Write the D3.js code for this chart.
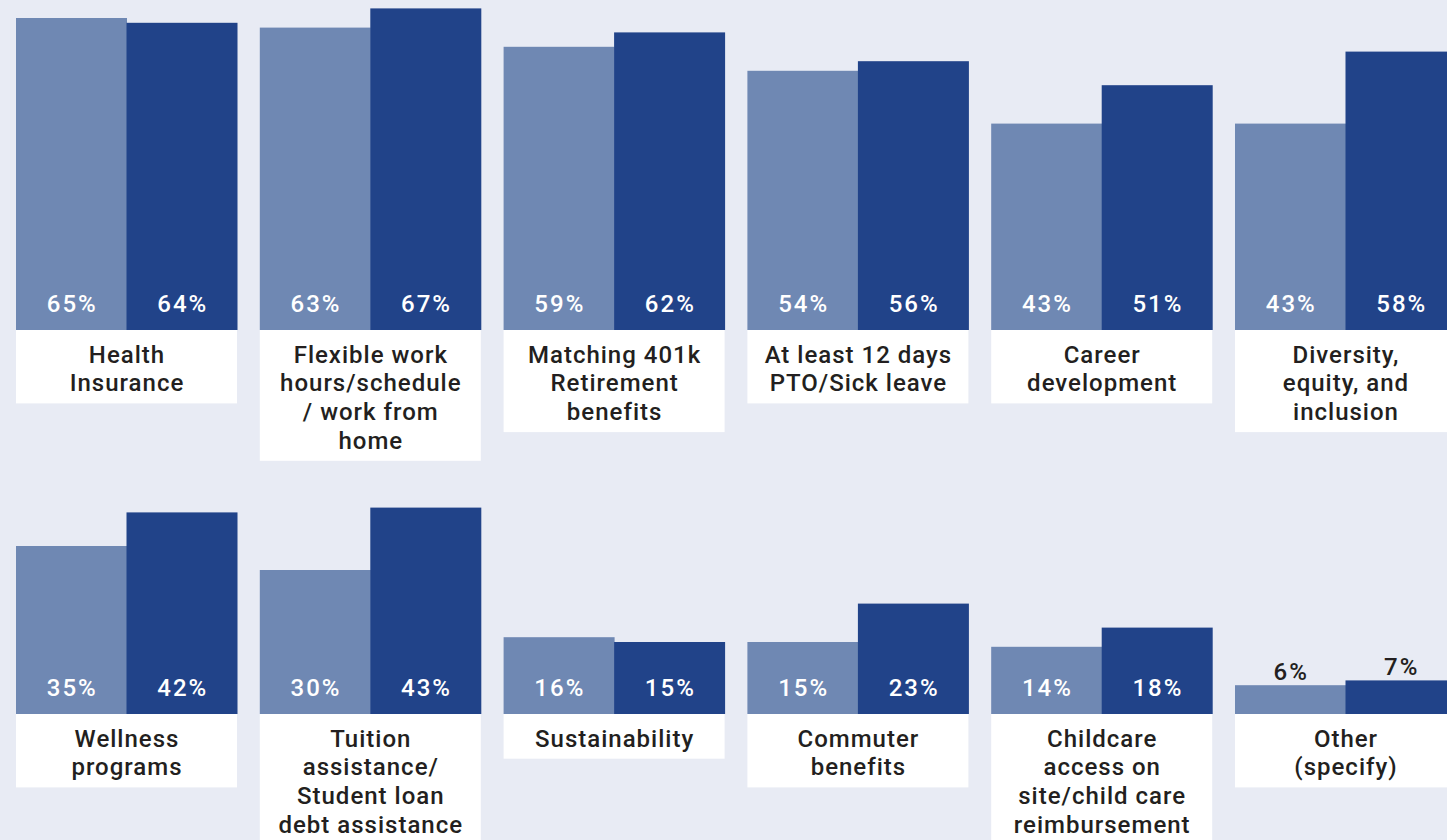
<!DOCTYPE html>
<html>
<head>
<meta charset="utf-8">
<script src="https://cdn.jsdelivr.net/npm/d3@7"></script>
<style>
  html, body { margin: 0; padding: 0; background: #e8ebf4; overflow: hidden; }
  svg { display: block; }
  text { font-family: Roboto, "Noto Sans", sans-serif; }
</style>
</head>
<body>
<svg id="chart" width="1447" height="840"></svg>
<script>
// ---- Data ----
const row1Categories = [
  ["Health", "Insurance"],
  ["Flexible work", "hours/schedule", "/ work from", "home"],
  ["Matching 401k", "Retirement", "benefits"],
  ["At least 12 days", "PTO/Sick leave"],
  ["Career", "development"],
  ["Diversity,", "equity, and", "inclusion"]
];
const row2Categories = [
  ["Wellness", "programs"],
  ["Tuition", "assistance/", "Student loan", "debt assistance"],
  ["Sustainability"],
  ["Commuter", "benefits"],
  ["Childcare", "access on", "site/child care", "reimbursement"],
  ["Other", "(specify)"]
];
const seriesKeys = ["light", "dark"];
const row1Light = [65, 63, 59, 54, 43, 43];
const row1Dark  = [64, 67, 62, 56, 51, 58];
const row2Light = [35, 30, 16, 15, 14, 6];
const row2Dark  = [42, 43, 15, 23, 18, 7];

// ---- Layout ----
const svg = d3.select("#chart");
const colors = { light: "#6f88b3", dark: "#214389" };
const textColor = "#231f20";

const x = d3.scaleBand().domain(d3.range(6)).range([16, 1456]).paddingInner(0.0935).paddingOuter(0);
const xInner = d3.scaleBand().domain(seriesKeys).range([0, x.bandwidth()]).padding(0);
const h = d3.scaleLinear().domain([0, 100]).range([0, 480]);

const lineH = 28.7;

function drawRow(baseline, cats, light, dark) {
  const data = cats.map((c, i) => ({ i, lines: c, light: light[i], dark: dark[i] }));
  const g = svg.append("g");
  const grp = g.selectAll("g.grp").data(data).join("g")
    .attr("class", "grp")
    .attr("transform", d => `translate(${x(d.i)},0)`);

  // label boxes
  grp.append("rect")
    .attr("x", 0).attr("y", baseline)
    .attr("width", x.bandwidth())
    .attr("height", d => 16 + lineH * d.lines.length)
    .attr("fill", "#ffffff");

  grp.each(function(d) {
    const sel = d3.select(this);
    d.lines.forEach((ln, k) => {
      sel.append("text")
        .attr("x", x.bandwidth() / 2 + 0.5)
        .attr("y", baseline + 32.5 + k * lineH)
        .attr("text-anchor", "middle")
        .attr("font-size", 24)
        .attr("font-weight", 500)
        .attr("letter-spacing", 1.0)
        .attr("fill", textColor)
        .text(ln);
    });
  });

  // bars
  const bars = grp.selectAll("g.bar").data(d => seriesKeys.map(k => ({ k, v: d[k] })))
    .join("g").attr("class", "bar");
  bars.append("rect")
    .attr("x", d => xInner(d.k))
    .attr("width", xInner.bandwidth() + 0.5)
    .attr("y", d => baseline - h(d.v))
    .attr("height", d => h(d.v))
    .attr("fill", d => colors[d.k]);
  bars.append("text")
    .attr("x", d => xInner(d.k) + xInner.bandwidth() / 2 + 1)
    .attr("y", d => d.v < 10 ? baseline - h(d.v) - 5 : baseline - 18.5)
    .attr("text-anchor", "middle")
    .attr("font-size", 24)
    .attr("font-weight", 500)
    .attr("letter-spacing", 2.0)
    .attr("fill", d => d.v < 10 ? textColor : "#ffffff")
    .text(d => d.v + "%");
}

drawRow(330, row1Categories, row1Light, row1Dark);
drawRow(714, row2Categories, row2Light, row2Dark);
</script>
</body>
</html>
